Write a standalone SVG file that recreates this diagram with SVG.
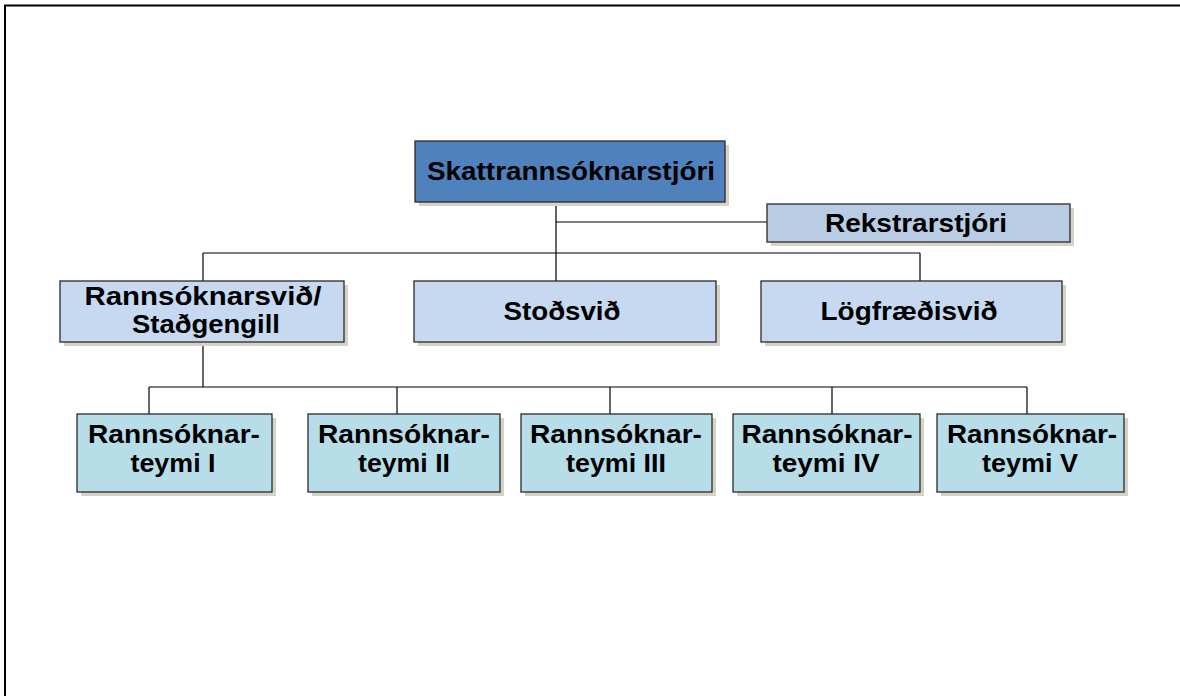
<svg xmlns="http://www.w3.org/2000/svg" width="1180" height="696" viewBox="0 0 1180 696">
<style>
text{font-family:"Liberation Sans",Arial,sans-serif;font-weight:bold;fill:#000;text-anchor:middle;font-size:25px}
.box{stroke:#2a2a2a;stroke-width:1.3}
.shadow{fill:#d6d2c6}
.l1{fill:#4f81bd}
.l1b{fill:#b8cce4}
.l2{fill:#c6d9f1}
.l3{fill:#b7dde8}
.conn line{stroke:#000;stroke-width:1.2}
</style>
<rect x="5" y="5.5" width="1190" height="720" fill="none" stroke="#000" stroke-width="2"/>
<g class="conn">
<line x1="556" y1="202" x2="556" y2="253"/>
<line x1="556" y1="222" x2="767" y2="222"/>
<line x1="203" y1="253" x2="920" y2="253"/>
<line x1="203" y1="253" x2="203" y2="281"/>
<line x1="556" y1="253" x2="556" y2="281"/>
<line x1="920" y1="253" x2="920" y2="281"/>
<line x1="203" y1="342" x2="203" y2="387"/>
<line x1="149" y1="387" x2="1027" y2="387"/>
<line x1="149" y1="387" x2="149" y2="414"/>
<line x1="397" y1="387" x2="397" y2="414"/>
<line x1="610" y1="387" x2="610" y2="414"/>
<line x1="832" y1="387" x2="832" y2="414"/>
<line x1="1027" y1="387" x2="1027" y2="414"/>
</g>
<g id="skattrannsoknarstjori">
<rect class="shadow" x="419" y="145" width="310" height="61"/>
<rect class="box l1" x="415" y="141" width="310" height="61"/>
<text x="571" y="180" textLength="288" lengthAdjust="spacingAndGlyphs">Skattrannsóknarstjóri</text>
</g>
<g id="rekstrarstjori">
<rect class="shadow" x="771" y="208" width="303" height="38"/>
<rect class="box l1b" x="767" y="204" width="303" height="38"/>
<text x="916" y="232" font-size="22" textLength="182" lengthAdjust="spacingAndGlyphs">Rekstrarstjóri</text>
</g>
<g id="rannsoknarsvid">
<rect class="shadow" x="64" y="285" width="284" height="61"/>
<rect class="box l2" x="60" y="281" width="284" height="61"/>
<text x="203" y="305" textLength="237" lengthAdjust="spacingAndGlyphs">Rannsóknarsvið/</text>
<text x="206" y="333" textLength="148" lengthAdjust="spacingAndGlyphs">Staðgengill</text>
</g>
<g id="stodsvid">
<rect class="shadow" x="418" y="285" width="302" height="61"/>
<rect class="box l2" x="414" y="281" width="302" height="61"/>
<text x="562" y="320" textLength="117" lengthAdjust="spacingAndGlyphs">Stoðsvið</text>
</g>
<g id="logfraedisvid">
<rect class="shadow" x="765" y="285" width="301" height="61"/>
<rect class="box l2" x="761" y="281" width="301" height="61"/>
<text x="909" y="320" textLength="177" lengthAdjust="spacingAndGlyphs">Lögfræðisvið</text>
</g>
<g id="teymi1">
<rect class="shadow" x="81" y="418" width="195" height="78"/>
<rect class="box l3" x="77" y="414" width="195" height="78"/>
<text x="174" y="443" textLength="172" lengthAdjust="spacingAndGlyphs">Rannsóknar-</text>
<text x="173" y="472" textLength="85" lengthAdjust="spacingAndGlyphs">teymi I</text>
</g>
<g id="teymi2">
<rect class="shadow" x="312" y="418" width="192" height="78"/>
<rect class="box l3" x="308" y="414" width="192" height="78"/>
<text x="404" y="443" textLength="172" lengthAdjust="spacingAndGlyphs">Rannsóknar-</text>
<text x="404" y="472" textLength="92" lengthAdjust="spacingAndGlyphs">teymi II</text>
</g>
<g id="teymi3">
<rect class="shadow" x="525" y="418" width="191" height="78"/>
<rect class="box l3" x="521" y="414" width="191" height="78"/>
<text x="616" y="443" textLength="172" lengthAdjust="spacingAndGlyphs">Rannsóknar-</text>
<text x="616" y="472" textLength="100" lengthAdjust="spacingAndGlyphs">teymi III</text>
</g>
<g id="teymi4">
<rect class="shadow" x="737" y="418" width="187" height="78"/>
<rect class="box l3" x="733" y="414" width="187" height="78"/>
<text x="827" y="443" textLength="171" lengthAdjust="spacingAndGlyphs">Rannsóknar-</text>
<text x="826" y="472" textLength="107" lengthAdjust="spacingAndGlyphs">teymi IV</text>
</g>
<g id="teymi5">
<rect class="shadow" x="941" y="418" width="187" height="78"/>
<rect class="box l3" x="937" y="414" width="187" height="78"/>
<text x="1032" y="443" textLength="170" lengthAdjust="spacingAndGlyphs">Rannsóknar-</text>
<text x="1030" y="472" textLength="96" lengthAdjust="spacingAndGlyphs">teymi V</text>
</g>
</svg>
